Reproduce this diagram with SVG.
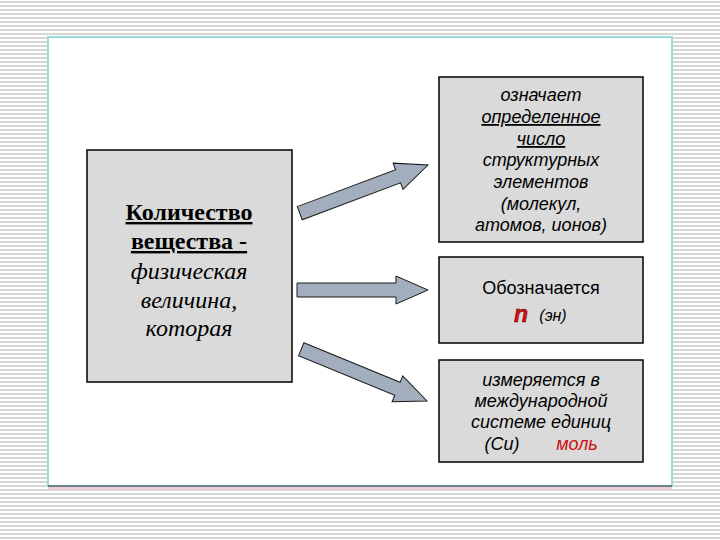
<svg xmlns="http://www.w3.org/2000/svg" width="720" height="540" viewBox="0 0 720 540">
<defs>
<pattern id="stripes" x="0" y="0" width="8" height="4" patternUnits="userSpaceOnUse">
<rect x="0" y="0" width="8" height="4" fill="#ffffff"/>
<rect x="0" y="1" width="8" height="2" fill="#d6d6d6"/>
</pattern>
</defs>
<style>
.box{fill:#dadada;stroke:#000;stroke-width:1.5}
.arrow{fill:#a2aebd;stroke:#1a1a1a;stroke-width:1}
.ser{font-family:"Liberation Serif","Times New Roman",serif;font-size:24px;fill:#000;text-anchor:middle}
.b{font-weight:bold;text-decoration:underline}
.i{font-style:italic}
.san{font-family:"Liberation Sans",Arial,sans-serif;font-size:18px;fill:#000;text-anchor:middle}
.u{text-decoration:underline}
.red{fill:#d01010}
</style>
<rect x="0" y="0" width="720" height="540" fill="url(#stripes)"/>
<g id="panel">
<rect x="48" y="37" width="624" height="449" fill="#ffffff" stroke="#9adcdc" stroke-width="2"/>
<line x1="48" y1="486" x2="672" y2="486" stroke="#333" stroke-width="1"/>
<line x1="48" y1="488" x2="672" y2="488" stroke="#f4c4d4" stroke-width="2"/>
</g>
<g id="node-main">
<rect class="box" x="87" y="150" width="205" height="232"/>
<text class="ser b" x="189" y="220">Количество</text>
<text class="ser b" x="189" y="249">вещества -</text>
<text class="ser i" x="189" y="279">физическая</text>
<text class="ser i" x="189" y="308">величина,</text>
<text class="ser i" x="189" y="336">которая</text>
</g>
<g id="node-definition">
<rect class="box" x="439" y="77" width="204" height="165"/>
<text class="san i" x="541" y="101">означает</text>
<text class="san i u" x="541" y="123">определенное</text>
<text class="san i u" x="541" y="145">число</text>
<text class="san i" x="541" y="166">структурных</text>
<text class="san i" x="541" y="188">элементов</text>
<text class="san i" x="541" y="210">(молекул,</text>
<text class="san i" x="541" y="231">атомов, ионов)</text>
</g>
<g id="node-symbol">
<rect class="box" x="439" y="257" width="204" height="86"/>
<text class="san" x="541" y="294">Обозначается</text>
<text class="san i red" x="521" y="322" style="font-size:23px;font-weight:bold;stroke:#600;stroke-width:0.5">n</text>
<text class="san i" x="553" y="321" style="font-size:16px">(эн)</text>
</g>
<g id="node-unit">
<rect class="box" x="439" y="360" width="204" height="102"/>
<text class="san i" x="541" y="386">измеряется в</text>
<text class="san i" x="541" y="407">международной</text>
<text class="san i" x="541" y="428">системе единиц</text>
<text class="san i" x="502" y="450">(Си)</text>
<text class="san i red" x="577" y="450">моль</text>
</g>
<g id="connectors">
<polygon class="arrow" points="-137,-7 -32,-7 -32,-14 0,0 -32,14 -32,7 -137,7" transform="translate(428,165) rotate(-20.6)"/>
<polygon class="arrow" points="-131,-7 -32,-7 -32,-14 0,0 -32,14 -32,7 -131,7" transform="translate(428,290)"/>
<polygon class="arrow" points="-136,-7 -32,-7 -32,-14 0,0 -32,14 -32,7 -136,7" transform="translate(427,401) rotate(22.4)"/>
</g>
</svg>
